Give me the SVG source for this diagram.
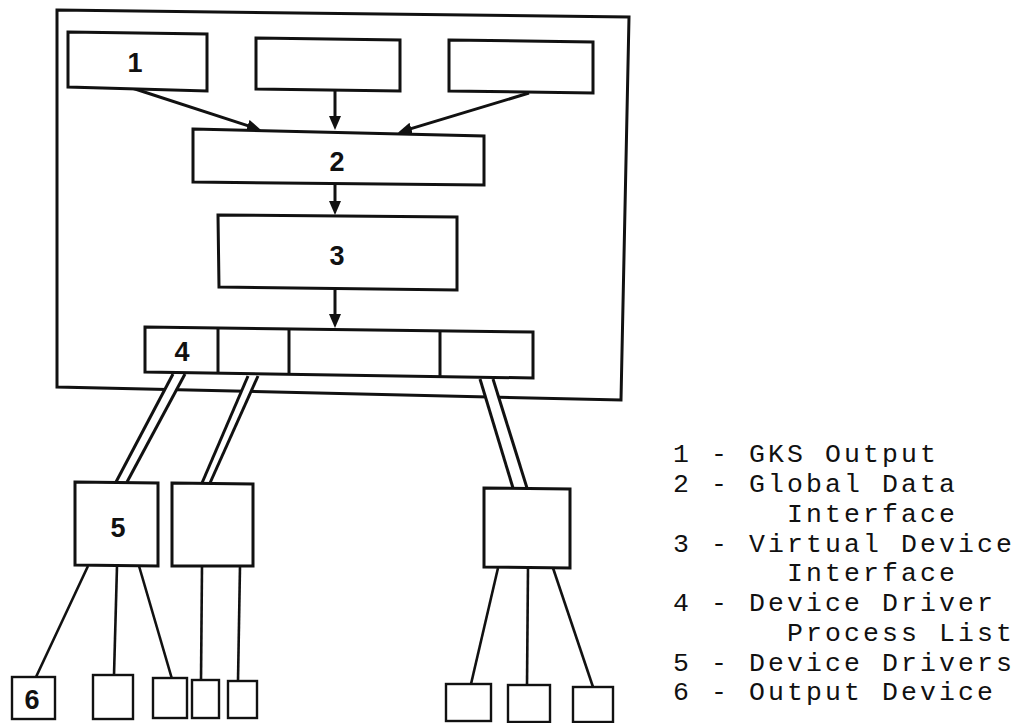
<svg xmlns="http://www.w3.org/2000/svg" width="1027" height="723" viewBox="0 0 1027 723">
<style>
.box{fill:#fff;stroke:#111;stroke-width:3;stroke-linejoin:miter}
.sbox{fill:#fff;stroke:#111;stroke-width:2.4}
.ln{stroke:#111;stroke-width:3;fill:none}
.thin{stroke:#111;stroke-width:2.6;fill:none}
.tube{fill:#fff;stroke:none}
.lbl{font-family:"Liberation Sans",Arial,sans-serif;font-weight:bold;font-size:27px;fill:#111;text-anchor:middle}
.leg{font-family:"Liberation Mono","Courier New",monospace;font-size:26.5px;letter-spacing:3.1px;fill:#111}
</style>
<defs>
<marker id="ah" markerUnits="userSpaceOnUse" markerWidth="15" markerHeight="13" refX="8" refY="6" orient="auto">
<path d="M0,0 L14,6 L0,12 Z" fill="#111"/>
</marker>
</defs>
<rect width="1027" height="723" fill="#fff"/>
<g id="frame">
<polygon class="box" style="fill:none" points="57,10 629,17 621,400 57,387"/>
</g>
<g id="connectors">
<polygon class="tube" points="173,374 185,374 127,482 116,482"/>
<line class="ln" x1="173" y1="374" x2="116" y2="482"/>
<line class="ln" x1="185" y1="374" x2="127" y2="482"/>
<polygon class="tube" points="248,376 258,376 210,483 202,483"/>
<line class="ln" x1="248" y1="376" x2="202" y2="483"/>
<line class="ln" x1="258" y1="376" x2="210" y2="483"/>
<polygon class="tube" points="480,379 493,379 527,488 513,488"/>
<line class="ln" x1="480" y1="379" x2="513" y2="488"/>
<line class="ln" x1="493" y1="379" x2="527" y2="488"/>
<line class="ln" x1="132" y1="88" x2="255.3" y2="128.1" marker-end="url(#ah)"/>
<line class="ln" x1="335" y1="91" x2="335" y2="124" marker-end="url(#ah)"/>
<line class="ln" x1="529" y1="93" x2="403.6" y2="130.9" marker-end="url(#ah)"/>
<line class="ln" x1="335" y1="184" x2="335" y2="209" marker-end="url(#ah)"/>
<line class="ln" x1="335" y1="290" x2="335" y2="322" marker-end="url(#ah)"/>
<line class="thin" x1="88" y1="566" x2="36" y2="677"/>
<line class="thin" x1="117" y1="566" x2="114" y2="675"/>
<line class="thin" x1="139" y1="566" x2="172" y2="679"/>
<line class="thin" x1="202" y1="566" x2="201" y2="680"/>
<line class="thin" x1="240" y1="566" x2="238" y2="681"/>
<line class="thin" x1="498" y1="568" x2="471" y2="684"/>
<line class="thin" x1="528" y1="568" x2="527" y2="685"/>
<line class="thin" x1="553" y1="568" x2="593" y2="687"/>
</g>
<g id="node-1">
<polygon class="box" points="68,32 207,34 207,91 68,87"/>
<text class="lbl" x="135" y="72">1</text>
</g>
<g id="node-input-b">
<polygon class="box" points="256,38 400,40 400,91 256,89"/>
</g>
<g id="node-input-c">
<polygon class="box" points="449,40 593,42 593,93 449,91"/>
</g>
<g id="node-2">
<polygon class="box" points="193,129 484,136 484,185 193,182"/>
<text class="lbl" x="337" y="171">2</text>
</g>
<g id="node-3">
<polygon class="box" points="218,215 457,217 457,290 219,287"/>
<text class="lbl" x="337" y="265">3</text>
</g>
<g id="node-4">
<polygon class="box" points="145,327 533,332 533,378 145,372"/>
<line class="ln" x1="218" y1="328" x2="218" y2="373"/>
<line class="ln" x1="289" y1="329" x2="289" y2="375"/>
<line class="ln" x1="440" y1="331" x2="440" y2="377"/>
<text class="lbl" x="182" y="361">4</text>
</g>
<g id="node-5">
<polygon class="box" points="75,482 158,483 158,566 75,565"/>
<text class="lbl" x="118" y="537">5</text>
</g>
<g id="node-driver-b">
<polygon class="box" points="172,483 253,484 253,566 172,566"/>
</g>
<g id="node-driver-c">
<polygon class="box" points="484,488 570,489 570,568 484,567"/>
</g>
<g id="node-6">
<rect class="sbox" x="12" y="677" width="43" height="42"/>
<text class="lbl" x="32" y="709">6</text>
</g>
<g id="node-out-2"><rect class="sbox" x="93" y="675" width="40" height="44"/></g>
<g id="node-out-3"><rect class="sbox" x="153" y="678" width="34" height="40"/></g>
<g id="node-out-4"><rect class="sbox" x="192" y="680" width="27" height="38"/></g>
<g id="node-out-5"><rect class="sbox" x="228" y="681" width="29" height="37"/></g>
<g id="node-out-6"><rect class="sbox" x="446" y="684" width="45" height="37"/></g>
<g id="node-out-7"><rect class="sbox" x="508" y="685" width="42" height="37"/></g>
<g id="node-out-8"><rect class="sbox" x="573" y="687" width="40" height="35"/></g>
<g id="legend">
<text class="leg" x="673" y="462">1 - GKS Output</text>
<text class="leg" x="673" y="492">2 - Global Data</text>
<text class="leg" x="787" y="522">Interface</text>
<text class="leg" x="673" y="552">3 - Virtual Device</text>
<text class="leg" x="787" y="581">Interface</text>
<text class="leg" x="673" y="611">4 - Device Driver</text>
<text class="leg" x="787" y="641">Process List</text>
<text class="leg" x="673" y="671">5 - Device Drivers</text>
<text class="leg" x="673" y="700">6 - Output Device</text>
</g>
</svg>
